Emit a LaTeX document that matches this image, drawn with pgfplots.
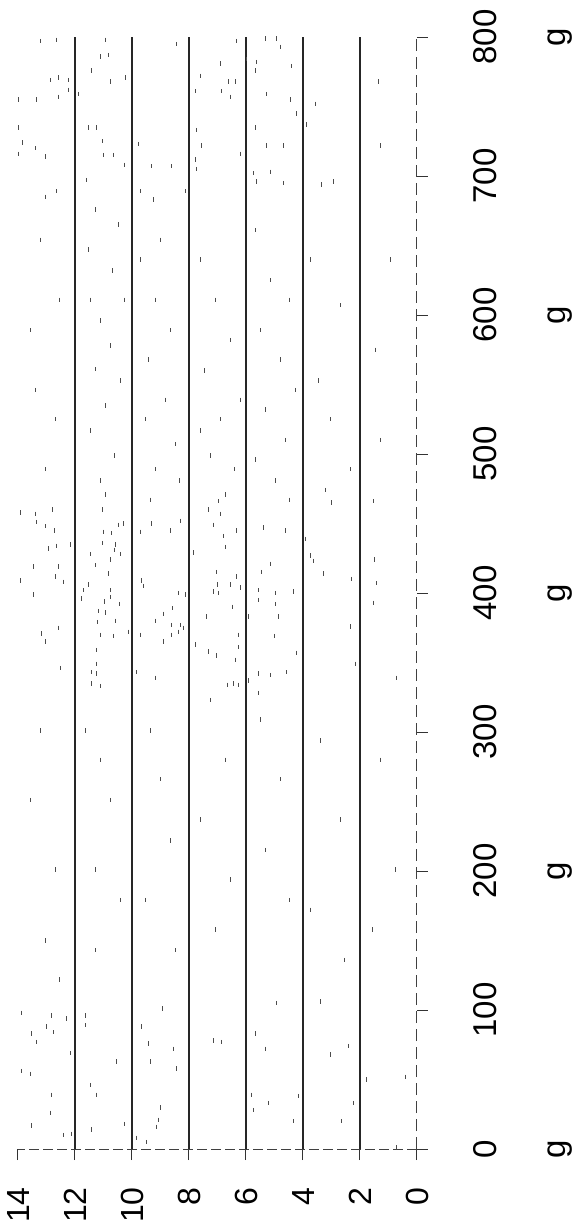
\documentclass[border=0pt]{standalone}
\usepackage{pgfplots}
\pgfplotsset{compat=1.18}
\usepackage{fontspec}
\setmainfont{Liberation Sans}
\begin{document}
\begin{tikzpicture}
\begin{axis}[
  scale only axis, width=199.5pt, height=556pt,
  at={(0,0)}, anchor=south west,
  xmin=0, xmax=14, ymin=0, ymax=800,
  x dir=reverse,
  axis x line*=bottom, axis y line*=right,
  x axis line style={black!75, line width=0.5pt, dash pattern=on 5pt off 2pt},
  y axis line style={black!75, line width=0.5pt, dash pattern=on 6pt off 3pt},
  xtick={0,2,...,14}, ytick={0,100,...,800},
  tick align=outside, major tick length=5.5pt,
  tick style={black!80, line width=0.5pt},
  /pgf/number format/assume math mode=true,
  xticklabel style={rotate=90, anchor=east, inner sep=0pt, font=\fontsize{16}{16}\selectfont},
  yticklabel style={rotate=90, anchor=north, inner sep=0pt, font=\fontsize{16.5}{16.5}\selectfont},
  xticklabel shift=13.5pt, yticklabel shift=22.5pt,
  extra y ticks={0,200,400,600,800},
  extra y tick labels={g,g,g,g,g},
  extra y tick style={major tick length=0pt, yticklabel shift=65pt},
  clip=false,
]
\addplot[black!85, line width=0.55pt] coordinates {(12,0) (12,800)};
\addplot[black!85, line width=0.55pt] coordinates {(10,0) (10,800)};
\addplot[black!85, line width=0.55pt] coordinates {(8,0) (8,800)};
\addplot[black!85, line width=0.55pt] coordinates {(6,0) (6,800)};
\addplot[black!85, line width=0.55pt] coordinates {(4,0) (4,800)};
\addplot[black!85, line width=0.55pt] coordinates {(2,0) (2,800)};
\addplot[only marks, mark=|, mark size=1.1pt, black!70, mark options={line width=0.4pt}] coordinates {
(13.23,797) (12.64,798) (10.94,798) (8.43,795) (6.32,797) (5.33,799) (4.92,799) (1.35,768) (1.29,722)
(11.12,786) (10.83,787) (11.41,776) (12.87,769) (12.58,771) (12.23,769) (11.88,759) (12.23,762) (12.58,757)
(13.34,755) (13.99,755) (10.77,768) (10.24,771) (11.53,735) (11.24,735) (11.03,725) (9.77,723) (11.0,715)
(10.65,715) (10.28,708) (9.31,707) (8.60,707) (11.61,697) (9.72,689) (9.25,683) (12.64,689) (13.05,685)
(13.99,735) (13.83,724) (13.40,720) (13.05,714) (13.99,716) (7.61,772) (7.79,761) (6.91,781) (6.62,768)
(6.38,768) (6.85,761) (6.56,757) (7.73,733) (7.55,722) (7.79,712) (7.73,705) (8.14,689) (5.97,784)
(5.62,782) (5.68,776) (5.27,759) (4.39,779) (4.45,755) (4.22,745) (3.87,737) (3.57,752) (5.68,735)
(5.27,722) (4.69,722) (6.21,716) (5.74,702) (5.62,696) (5.15,703) (4.69,695) (3.34,694) (2.93,696) (4.80,793)
(13.23,654) (13.58,589) (12.70,525) (13.05,489) (12.53,611) (13.40,546)
(11.47,611) (11.12,596) (10.77,578) (11.30,561) (10.42,553) (10.95,535) (11.47,517) (10.60,499) (11.12,481)
(10.25,611) (10.70,632) (11.54,647) (10.49,665) (11.30,676) (10.95,471)
(9.72,640) (9.19,611) (8.67,589) (9.44,568) (8.84,539) (9.54,525) (8.49,507) (9.19,489) (8.32,481) (9.02,654) (9.37,467)
(7.61,640) (7.09,611) (6.56,582) (7.46,560) (6.21,539) (6.91,525) (7.26,499) (6.39,489) (6.74,471) (7.61,517)
(5.68,661) (5.16,625) (4.46,611) (5.51,589) (4.81,568) (4.28,546) (5.33,532) (4.63,510) (5.68,496) (4.98,481) (4.46,467)
(3.75,640) (2.70,607) (3.47,553) (3.05,525) (2.35,489) (3.23,474)
(1.47,575) (0.95,640) (1.30,510)
(13.93,458) (13.38,457) (12.79,460) (13.34,451) (13.05,448) (12.72,445) (12.93,432) (12.64,434) (12.17,435)
(13.46,419) (12.58,419) (13.93,409) (12.70,412) (12.41,408) (13.46,399) (12.58,375) (13.17,371) (13.05,365)
(12.52,346) (11.71,402) (11.79,396) (11.53,406) (11.47,428) (11.27,420) (11.04,460) (11.0,444) (10.71,443)
(11.04,436) (10.59,435) (10.62,431) (10.42,428) (10.77,424) (10.83,414) (10.77,402) (10.77,397) (10.97,394)
(11.18,387) (10.95,386) (10.45,392) (10.59,380) (11.20,379) (11.12,370) (10.65,369) (10.13,372) (11.24,359)
(11.24,349) (11.41,343) (11.24,342) (11.41,335) (11.12,333) (10.30,450) (10.48,449) (9.66,409) (9.60,405)
(9.72,444) (9.33,450) (8.66,445) (8.31,452) (8.90,385) (8.57,389) (9.19,380) (8.60,377) (8.31,377) (8.20,375)
(8.37,372) (8.60,370) (9.72,370) (8.90,365) (9.83,343) (9.19,339) (7.84,429) (8.37,400) (8.14,399)
(6.97,466) (7.32,460) (6.91,457) (7.14,449) (6.32,445) (6.79,441) (6.73,433) (7.03,415) (6.32,412) (6.99,406)
(6.56,406) (6.21,404) (7.14,401) (6.97,400) (6.48,390) (7.38,383) (6.26,370) (7.79,363) (6.26,361) (7.32,358)
(7.03,355) (6.38,352) (6.67,334) (6.44,335) (6.26,334) (5.39,447) (4.63,445) (5.15,421) (5.45,415) (5.56,402)
(4.98,400) (4.34,401) (5.56,395) (4.98,392) (5.91,383) (4.86,383) (5.01,369) (4.24,357) (5.56,342) (5.15,341)
(4.57,343) (5.91,337) (5.56,328) (2.99,465) (3.93,439) (3.75,427) (3.63,423) (3.28,414) (2.29,410) (2.34,376)
(2.15,349) (1.49,424) (1.43,407) (1.53,393) (0.71,339) (1.53,466)
(13.23,301) (13.58,251) (12.70,201) (13.05,150) (12.53,122)
(11.12,280) (11.65,301) (10.77,251) (11.30,201) (10.42,179) (11.30,143)
(9.37,301) (9.02,266) (8.67,222) (9.54,179) (8.49,143)
(7.26,323) (6.74,280) (7.61,237) (6.56,194) (7.09,158)
(5.51,309) (4.81,266) (5.33,215) (4.46,179)
(3.40,294) (2.70,237) (3.75,172) (2.53,136)
(1.30,280) (0.77,201) (1.58,158)
(13.87,98) (12.82,96) (12.29,94) (11.65,96) (12.99,88) (12.76,84) (13.52,83) (13.37,77) (11.65,89) (12.17,69)
(10.53,63) (13.58,54) (13.87,56) (12.82,39) (12.88,26) (12.41,10) (12.11,11) (13.52,17) (11.47,46) (11.24,39)
(11.41,14) (10.28,18) (9.66,88) (9.42,76) (9.37,63) (8.93,101) (8.55,72) (8.43,58) (9.01,30) (9.07,21)
(9.13,16) (9.83,8) (9.48,5) (7.14,78) (6.85,77) (5.68,83) (5.33,72) (5.80,39) (5.74,28) (5.21,33) (4.94,105)
(3.05,68) (2.40,74) (4.16,38) (4.34,20) (2.64,20) (2.23,33) (1.76,50) (0.41,52) (3.40,106) (0.71,1)
};
\end{axis}
\pgfresetboundingbox
\path (-9pt,-36.5pt) rectangle (280pt,574.5pt);
\end{tikzpicture}
\end{document}
